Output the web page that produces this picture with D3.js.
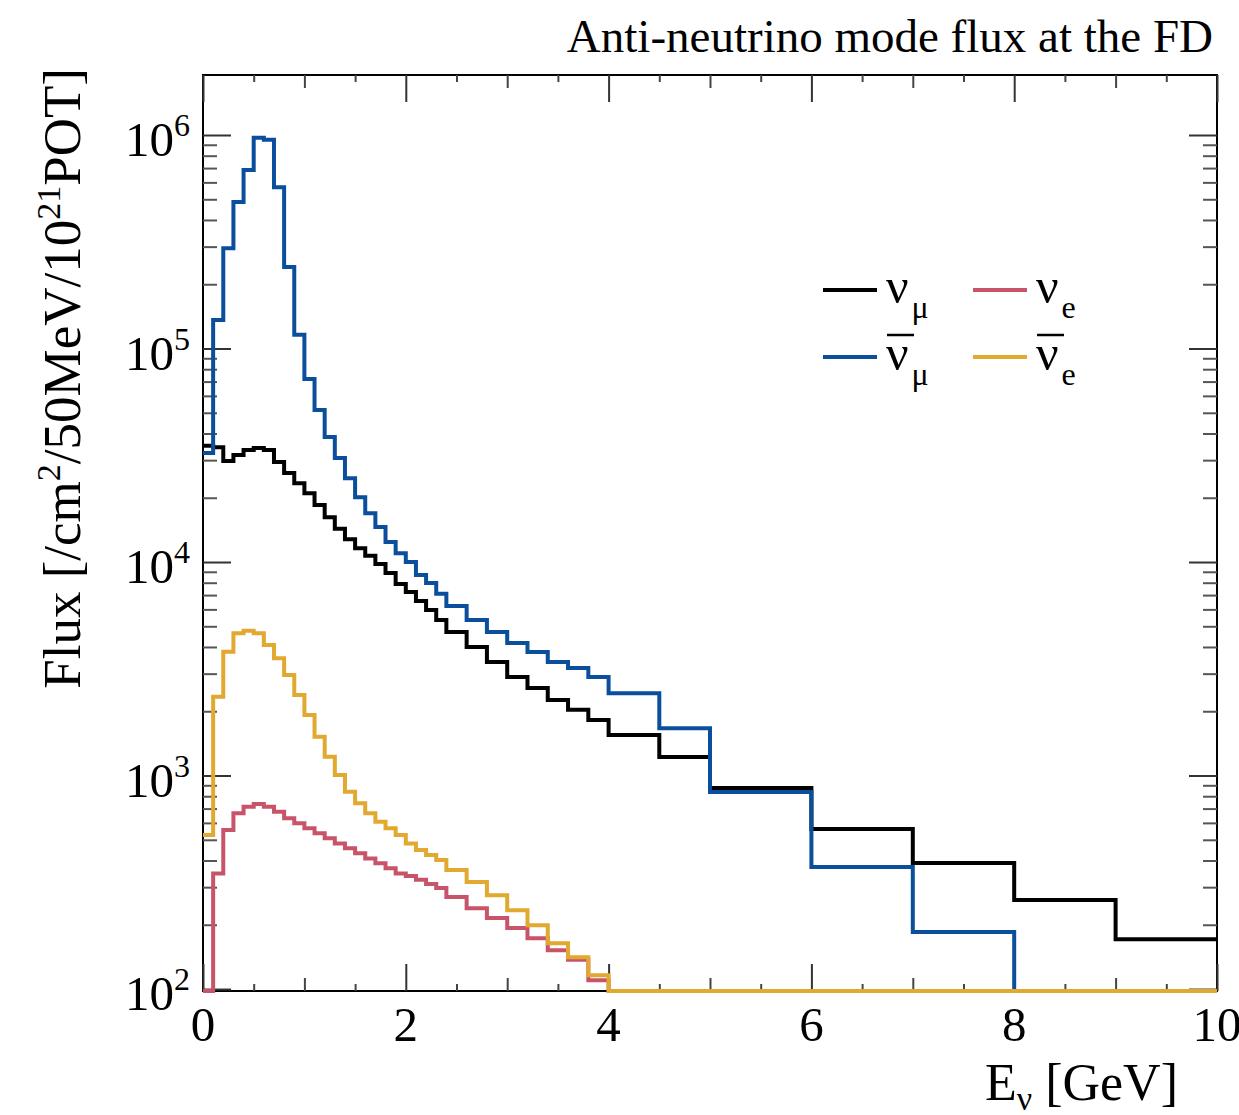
<!DOCTYPE html>
<html><head><meta charset="utf-8">
<script src="https://cdn.jsdelivr.net/npm/d3@7/dist/d3.min.js"></script>
<style>body{margin:0;background:#fff;} svg{display:block;}</style>
</head><body>
<svg id="chart" width="1239" height="1115"></svg>
<script>
// ---- data ----
const binEdges = [0,0.1,0.2,0.3,0.4,0.5,0.6,0.7,0.8,0.9,1.0,1.1,1.2,1.3,1.4,1.5,1.6,1.7,1.8,1.9,2.0,2.1,2.2,2.3,2.4,
                  2.6,2.8,3.0,3.2,3.4,3.6,3.8,4.0,4.5,5,6,7,8,9,10];
const numu    = [35000,34500,29700,31700,33500,34200,33500,29400,26100,23400,
                 21000,18500,16200,14300,12800,11600,10700,9790,8880,7890,
                 7230,6560,5960,5350,
                 4700,4000,3400,2890,2570,2260,2030,1820,
                 1549,1222,873,561,389,261,171];
const numubar = [32400,136000,295000,485000,686000,970000,950000,570000,241000,116000,
                 72000,51500,38500,30700,24700,20100,16900,14600,12400,11000,
                 10000,8700,7970,7100,
                 6220,5350,4700,4180,3790,3400,3190,2890,
                 2430,1667,838,373,185,0,0];
const nue     = [0,348,556,665,714,735,714,676,630,597,
                 566,536,508,481,456,432,409,388,368,348,
                 338,325,310,297,
                 270,239,215,193,173,152,137,110,
                 0,0,0,0,0,0,0];
const nuebar  = [526,2337,3800,4635,4765,4635,4085,3540,2956,2383,
                 1920,1520,1225,1005,839,741,665,608,566,526,
                 481,448,424,402,
                 361,317,275,234,199,164,141,116,
                 0,0,0,0,0,0,0];
const xTickLabels = [0,2,4,6,8,10];
const yDecades = [2,3,4,5,6];
const titleText = "Anti-neutrino mode flux at the FD";

// ---- layout ----
const FONT = "'Liberation Serif','Times New Roman',serif";
const L = 203, R = 1217, T = 75, B = 991;
const svg = d3.select("#chart");
const x = d3.scaleLinear().domain([0, 10]).range([L, R]);
const y = d3.scaleLog().domain([97.9, 1.91e6]).range([B, T]);
const yMin = y.domain()[0];

// ---- frame ----
svg.append("rect").attr("x", L).attr("y", T).attr("width", R - L).attr("height", B - T)
  .attr("fill", "none").attr("stroke", "#000").attr("stroke-width", 2);

// ---- ticks via d3 axes ----
const majX = d3.range(0, 10.01, 2);
const midX = d3.range(1, 10, 2);
const minX = d3.range(0.5, 10, 1);
const majY = yDecades.map(d => Math.pow(10, d));
const minY = [];
for (let d = 2; d <= 6; d++) for (let m = 2; m <= 9; m++) { const v = m * Math.pow(10, d); if (v < y.domain()[1]) minY.push(v); }

function ax(gen, vals, size, tx, ty, col) {
  const g = svg.append("g").attr("transform", `translate(${tx},${ty})`)
    .call(gen.tickValues(vals).tickSize(size).tickFormat(""));
  g.select(".domain").remove();
  g.selectAll("line").attr("stroke", col).attr("stroke-width", 2);
}
ax(d3.axisBottom(x), majX, -27, 0, B, "#333");
ax(d3.axisBottom(x), midX, -13, 0, B, "#444");
ax(d3.axisBottom(x), minX, -7, 0, B, "#444");
ax(d3.axisTop(x), majX, -27, 0, T, "#333");
ax(d3.axisTop(x), midX, -13, 0, T, "#444");
ax(d3.axisTop(x), minX, -7, 0, T, "#444");
ax(d3.axisLeft(y), majY, -28, L, 0, "#333");
ax(d3.axisLeft(y), minY, -14, L, 0, "#555");
ax(d3.axisRight(y), majY, -28, R, 0, "#333");
ax(d3.axisRight(y), minY, -14, R, 0, "#555");

// ---- histograms ----
const line = d3.line().x(d => x(d[0])).y(d => y(Math.max(d[1], yMin)));
function steps(vals) {
  const pts = [];
  vals.forEach((v, i) => { pts.push([binEdges[i], v]); pts.push([binEdges[i + 1], v]); });
  return pts;
}
const series = [
  {name: "numu", vals: numu, color: "#000000"},
  {name: "numubar", vals: numubar, color: "#0b4f9c"},
  {name: "nue", vals: nue, color: "#c8546a"},
  {name: "nuebar", vals: nuebar, color: "#e1a92f"}
];
svg.append("clipPath").attr("id", "pc").append("rect")
  .attr("x", L - 2).attr("y", T).attr("width", R - L + 4).attr("height", B - T + 4);
series.forEach(s => {
  svg.append("path").attr("d", line(steps(s.vals)))
    .attr("fill", "none").attr("stroke", s.color).attr("stroke-width", 4)
    .attr("stroke-linejoin", "miter").attr("clip-path", "url(#pc)");
});

// ---- tick labels ----
xTickLabels.forEach(v => {
  svg.append("text").attr("x", x(v)).attr("y", 1041).attr("text-anchor", "middle")
    .attr("font-family", FONT).attr("font-size", 49).attr("fill", "#000").text(v);
});
yDecades.forEach(d => {
  const t = svg.append("text").attr("x", 190).attr("y", y(Math.pow(10, d)) + 21)
    .attr("text-anchor", "end").attr("font-family", FONT).attr("font-size", 49).attr("fill", "#000");
  t.append("tspan").text("10");
  t.append("tspan").attr("font-size", 32).attr("dy", -20).text(d);
});

// ---- axis titles ----
const xt = svg.append("text").attr("x", 1178).attr("y", 1100).attr("text-anchor", "end")
  .attr("font-family", FONT).attr("font-size", 52).attr("fill", "#000");
xt.append("tspan").text("E");
xt.append("tspan").attr("font-size", 34).attr("dy", 10).text("ν");
xt.append("tspan").attr("dy", -10).text(" [GeV]");

const yt = svg.append("text").attr("transform", "translate(80,68) rotate(-90)")
  .attr("text-anchor", "end").attr("font-family", FONT).attr("font-size", 53).attr("fill", "#000");
yt.append("tspan").text("Flux [/cm");
yt.append("tspan").attr("font-size", 34).attr("dy", -20).text("2");
yt.append("tspan").attr("dy", 20).text("/50MeV/10");
yt.append("tspan").attr("font-size", 34).attr("dy", -20).text("21");
yt.append("tspan").attr("dy", 20).text("POT]");

// ---- title ----
svg.append("text").attr("x", 1213).attr("y", 52).attr("text-anchor", "end")
  .attr("font-family", FONT).attr("font-size", 47).attr("fill", "#000").text(titleText);

// ---- legend ----
const legend = [
  {color: "#000000", sub: "μ", bar: false, lx: 823, ly: 290},
  {color: "#c8546a", sub: "e", bar: false, lx: 973, ly: 290},
  {color: "#0b4f9c", sub: "μ", bar: true, lx: 823, ly: 357},
  {color: "#e1a92f", sub: "e", bar: true, lx: 973, ly: 357}
];
legend.forEach(l => {
  svg.append("line").attr("x1", l.lx).attr("x2", l.lx + 54).attr("y1", l.ly).attr("y2", l.ly)
    .attr("stroke", l.color).attr("stroke-width", 4);
  const bx = l.lx + 63, by = l.ly + 13;
  const t = svg.append("text").attr("x", bx).attr("y", by)
    .attr("font-family", FONT).attr("font-size", 50).attr("fill", "#000");
  t.append("tspan").text("ν");
  t.append("tspan").attr("font-size", 32).attr("dy", 15).attr("dx", 3).text(l.sub);
  if (l.bar) {
    svg.append("line").attr("x1", bx + 1).attr("x2", bx + 28).attr("y1", l.ly - 22).attr("y2", l.ly - 22)
      .attr("stroke", "#000").attr("stroke-width", 2.5);
  }
});
</script>
</body></html>
